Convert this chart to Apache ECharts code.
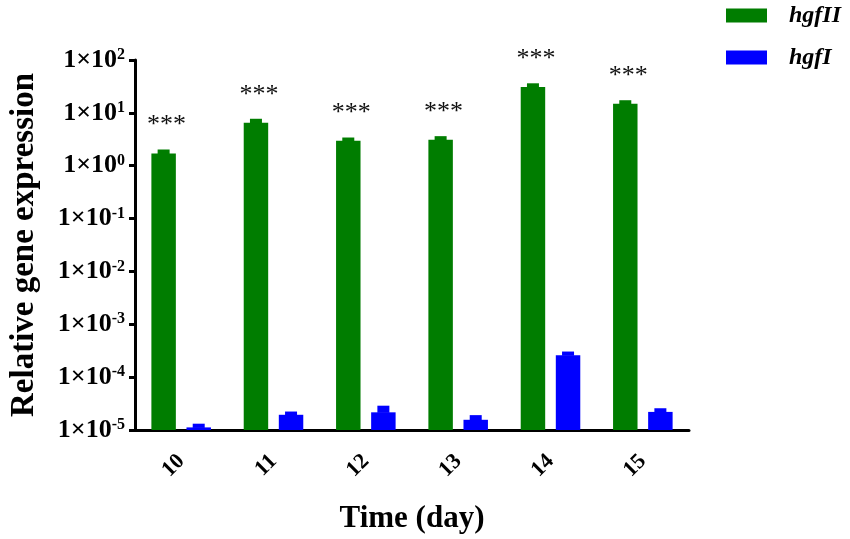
<!DOCTYPE html>
<html><head><meta charset="utf-8">
<script src="https://cdn.jsdelivr.net/npm/echarts@6/dist/echarts.min.js"></script>
<style>html,body{margin:0;padding:0;background:#fff}#c{width:850px;height:539px}</style>
</head><body><div id="c"></div>
<script>
const categories = ['10', '11', '12', '13', '14', '15'];
const hgfII = [1.7, 6.5, 2.96, 3.1, 31, 14.8];
const hgfIIErr = [0.24, 0.9, 0.31, 0.37, 3.7, 1.8];
const hgfI = [1.12e-5, 1.94e-5, 2.16e-5, 1.56e-5, 2.6e-4, 2.2e-5];
const hgfIErr = [0.14e-5, 0.2e-5, 0.6e-5, 0.27e-5, 0.32e-4, 0.27e-5];
const significance = ['***', '***', '***', '***', '***', '***'];
const yMin = 1e-5, yMax = 1e2;

const FONT = '"Liberation Serif", "Times New Roman", serif';
const GREEN = '#007d00', BLUE = '#0000ff';

function makeRender(side, color, withStars) {
  return function (params, api) {
    const i = api.value(0);
    const v = api.value(1);
    const e = api.value(2);
    const base = api.coord([i, yMin]);
    const top = api.coord([i, v]);
    const errTop = api.coord([i, v + e]);
    const band = api.size([1, 0])[0];
    const bw = band * 0.265;
    const gap = band * 0.115;
    const cx = top[0] + side * (bw / 2 + gap / 2);
    const children = [
      { type: 'rect', shape: { x: cx - bw / 2, y: top[1], width: bw, height: base[1] - top[1] }, style: { fill: color } },
      { type: 'rect', shape: { x: cx - 6, y: errTop[1] - 1, width: 12, height: top[1] - errTop[1] + 1.5 }, style: { fill: color } }
    ];
    if (withStars) {
      children.push({
        type: 'text',
        style: { text: significance[params.dataIndex], x: cx + 3, y: top[1] - 28, align: 'center', verticalAlign: 'middle',
                 fontSize: 26, fontFamily: FONT, fill: '#111' }
      });
    }
    return { type: 'group', children: children };
  };
}

const chart = echarts.init(document.getElementById('c'), null, { renderer: 'canvas' });
chart.setOption({
  backgroundColor: '#fff',
  animation: false,
  legend: {
    orient: 'vertical', left: 726, top: 3.5, padding: 0, itemWidth: 41, itemHeight: 14, itemGap: 18,
    data: [{ name: 'hgfII', icon: 'rect' }, { name: 'hgfI', icon: 'rect' }],
    textStyle: { fontFamily: FONT, fontSize: 24, fontWeight: 'bold', fontStyle: 'italic', color: '#000', lineHeight: 14, padding: [0, 0, 0, 17] }
  },
  grid: { left: 134, right: 161, top: 60, bottom: 108 },
  xAxis: {
    type: 'category', data: categories, boundaryGap: true,
    name: 'Time (day)', nameLocation: 'middle', nameGap: 73,
    nameTextStyle: { fontFamily: FONT, fontSize: 31, fontWeight: 'bold', color: '#000' },
    axisLine: { lineStyle: { color: '#000', width: 3 } },
    axisTick: { alignWithLabel: true, length: 7, lineStyle: { color: '#000', width: 3 } },
    axisLabel: { rotate: 45, margin: 28, fontFamily: FONT, fontSize: 22, fontWeight: 'bold', color: '#000' }
  },
  yAxis: {
    type: 'log', logBase: 10, min: yMin, max: yMax,
    name: 'Relative gene expression', nameLocation: 'middle', nameGap: 94,
    nameTextStyle: { fontFamily: FONT, fontSize: 33, fontWeight: 'bold', color: '#000' },
    splitLine: { show: false },
    axisLine: { show: true, lineStyle: { color: '#000', width: 3 } },
    axisTick: { show: true, length: 6, lineStyle: { color: '#000', width: 3 } },
    axisLabel: {
      margin: 10,
      formatter: function (val) {
        const ex = Math.round(Math.log10(val));
        return '{b|1×10}{s|' + ex + '}';
      },
      rich: {
        b: { fontFamily: FONT, fontSize: 26, fontWeight: 'bold', color: '#000', lineHeight: 26 },
        s: { fontFamily: FONT, fontSize: 16, fontWeight: 'bold', color: '#000', verticalAlign: 'top', lineHeight: 16 }
      }
    }
  },
  series: [
    {
      name: 'hgfII', type: 'custom', itemStyle: { color: GREEN },
      renderItem: makeRender(-1, GREEN, true),
      encode: { x: 0, y: 1 },
      data: hgfII.map((v, i) => [i, v, hgfIIErr[i]])
    },
    {
      name: 'hgfI', type: 'custom', itemStyle: { color: BLUE },
      renderItem: makeRender(1, BLUE, false),
      encode: { x: 0, y: 1 },
      data: hgfI.map((v, i) => [i, v, hgfIErr[i]])
    }
  ]
});
</script></body></html>
